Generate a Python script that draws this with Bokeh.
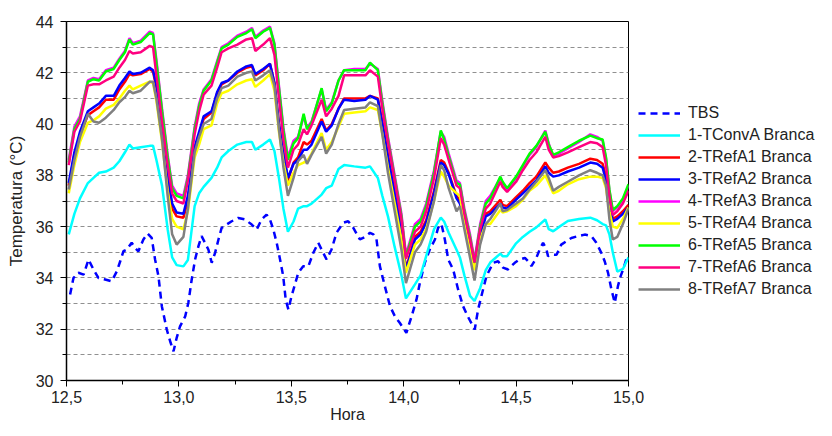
from bokeh.plotting import figure
from bokeh.models import Legend, LegendItem, FixedTicker, CustomJSTickFormatter, Range1d
from bokeh.embed import file_html
from bokeh.resources import INLINE

# ---------------- data ----------------
hora = [12.51, 12.535, 12.56, 12.595, 12.62, 12.645, 12.675, 12.71, 12.735, 12.76,
        12.78, 12.795, 12.83, 12.87, 12.885, 12.90,
        12.925, 12.95, 12.97, 12.99, 13.02, 13.04,
        13.07, 13.09, 13.11, 13.145, 13.17, 13.19, 13.22, 13.26, 13.30, 13.325, 13.34, 13.375, 13.405,
        13.425, 13.445, 13.465, 13.485, 13.51,
        13.53, 13.555, 13.57, 13.59, 13.635, 13.655, 13.68, 13.71, 13.735, 13.78, 13.83, 13.85, 13.885,
        13.905, 13.93, 13.96, 13.99, 14.01,
        14.05, 14.075, 14.10, 14.135, 14.165, 14.18, 14.20, 14.235, 14.25, 14.27, 14.295,
        14.315, 14.34, 14.365, 14.385, 14.43, 14.44, 14.46, 14.50, 14.53, 14.56, 14.59, 14.63, 14.645,
        14.665, 14.69, 14.73, 14.78, 14.83, 14.86, 14.885, 14.90, 14.915, 14.93, 14.95, 14.975, 15.0]

conv_a = [35.7, 36.5, 37.1, 37.7, 37.9, 38.1, 38.15, 38.3, 38.55, 38.9, 39.2, 39.05, 39.1, 39.15, 39.15, 38.6,
          37.6, 35.9, 34.8, 34.5, 34.45, 34.7,
          36.8, 37.3, 37.55, 37.9, 38.3, 38.7, 38.95, 39.2, 39.3, 39.3, 39.0, 39.2, 39.4,
          38.95, 37.9, 36.7, 35.8, 36.2,
          36.7, 36.8, 36.8, 36.9, 37.25, 37.5, 37.6, 38.25, 38.4, 38.35, 38.3, 38.35, 37.9,
          37.2, 36.4, 35.2, 34.1, 33.2,
          33.75, 34.1, 34.85, 35.9, 36.35, 36.2, 35.76, 35.1, 34.8, 34.1, 33.3,
          33.1, 33.6, 34.3, 34.6, 34.95, 34.85, 34.85, 35.35, 35.6, 35.8, 35.97, 36.28, 35.9,
          35.82, 35.98, 36.22, 36.3, 36.35, 36.25, 36.1, 36.05, 35.7, 35.0, 34.25, 34.35, 34.8]

ref_a1 = [37.6, 38.8, 39.55, 40.35, 40.5, 40.65, 40.95, 40.95, 41.35, 41.65, 41.95, 41.9, 41.95, 42.15, 42.05, 41.4,
          39.8, 37.9, 36.7, 36.4, 36.35, 37.0,
          39.0, 39.6, 40.2, 40.45, 41.2, 41.55, 41.7, 42.0, 42.2, 42.25, 41.9, 42.1, 42.35,
          41.6, 40.0, 38.8, 37.8, 38.5,
          38.7, 39.3, 39.2, 39.35, 40.2, 39.75, 40.0, 40.6, 41.0, 41.0, 41.0, 41.1, 41.0,
          40.1, 38.8, 37.4, 35.9, 34.35,
          35.6, 35.8, 36.25, 37.4, 38.6, 38.5, 38.1, 37.2, 37.0, 36.25, 35.35,
          34.55, 35.7, 36.5, 36.6, 37.05, 36.85, 36.8, 37.15, 37.4, 37.7, 37.95, 38.5, 38.3,
          38.1, 38.15, 38.3, 38.45, 38.65, 38.6, 38.45, 37.95, 37.0, 36.3, 36.4, 36.6, 36.85]

ref_a2 = [37.7, 38.9, 39.7, 40.5, 40.65, 40.8, 41.1, 41.1, 41.5, 41.8, 42.05, 41.95, 42.0, 42.2, 42.1, 41.5,
          39.9, 38.0, 36.9, 36.55, 36.5, 37.2,
          39.1, 39.7, 40.3, 40.5, 41.25, 41.6, 41.7, 42.05, 42.25, 42.3, 41.95, 42.15, 42.35,
          41.6, 40.0, 38.9, 37.9, 38.45,
          38.6, 39.0, 39.0, 39.2, 40.1, 39.7, 39.95, 40.6, 40.95, 40.9, 40.95, 41.1, 40.95,
          40.0, 38.7, 37.3, 35.8, 34.3,
          35.5, 35.7, 36.15, 37.3, 38.5, 38.4, 38.05, 37.1, 36.9, 36.2, 35.3,
          34.6, 35.6, 36.4, 36.5, 36.9, 36.75, 36.7, 37.05, 37.3, 37.55, 37.8, 38.35, 38.1,
          37.95, 38.0, 38.15, 38.3, 38.5, 38.45, 38.3, 37.8, 36.9, 36.2, 36.3, 36.5, 36.75]

ref_a3 = [38.6, 39.9, 40.3, 41.7, 41.8, 41.75, 42.1, 42.2, 42.55, 42.85, 43.35, 43.15, 43.25, 43.6, 43.55, 42.5,
          40.6, 38.8, 37.6, 37.3, 37.2, 38.0,
          39.9, 40.8, 41.35, 41.75, 42.45, 43.0, 43.15, 43.45, 43.6, 43.75, 43.4, 43.65, 43.8,
          43.15, 41.5, 39.85, 38.7, 39.35,
          39.5, 40.3, 39.85, 40.1, 41.35, 40.55, 40.85, 41.7, 42.1, 42.15, 42.15, 42.35, 42.15,
          40.9, 39.5, 38.0, 36.5, 34.9,
          36.1, 36.3, 36.9, 38.2, 39.7, 39.5, 38.85, 37.8, 37.7, 36.7, 35.7,
          34.7, 36.1, 37.0, 37.2, 37.9, 37.7, 37.45, 37.9, 38.35, 38.8, 39.1, 39.75, 39.25,
          38.75, 38.85, 39.05, 39.3, 39.6, 39.5, 39.35, 38.65, 37.4, 36.6, 36.75, 37.05, 37.6]

ref_a4 = [37.3, 38.4, 39.3, 40.05, 40.15, 40.3, 40.6, 40.75, 41.0, 41.3, 41.5, 41.35, 41.5, 41.65, 41.6, 40.9,
          39.3, 37.4, 36.3, 36.0, 35.9, 36.6,
          38.7, 39.2, 39.8, 39.95, 40.8, 41.2, 41.3, 41.55, 41.7, 41.75, 41.45, 41.7, 41.95,
          41.3, 39.7, 38.5, 37.6, 38.1,
          38.4, 38.5, 38.55, 38.85, 39.65, 39.0, 39.3, 39.9, 40.4, 40.45, 40.5, 40.65, 40.55,
          39.6, 38.3, 36.9, 35.5, 34.2,
          35.3, 35.5, 35.9, 37.0, 38.15, 37.95, 37.6, 37.3, 37.2, 36.1, 35.1,
          34.3, 35.5, 36.1, 36.1, 36.65, 36.55, 36.6, 36.8, 37.05, 37.4, 37.6, 38.0, 37.7,
          37.3, 37.4, 37.65, 37.85, 37.95, 37.95, 37.9, 37.5, 36.6, 36.0, 35.95, 36.3, 36.75]

ref_a5 = [38.5, 39.8, 40.2, 41.65, 41.75, 41.7, 42.05, 42.15, 42.5, 42.8, 43.3, 43.1, 43.2, 43.55, 43.5, 42.4,
          40.5, 38.7, 37.5, 37.2, 37.1, 37.9,
          39.8, 40.7, 41.3, 41.7, 42.4, 42.95, 43.1, 43.4, 43.55, 43.7, 43.35, 43.6, 43.75,
          43.1, 41.4, 39.75, 38.6, 39.25,
          39.45, 40.4, 39.8, 40.05, 41.4, 40.5, 40.8, 41.7, 42.1, 42.1, 42.1, 42.4, 42.1,
          40.8, 39.4, 37.9, 36.4, 34.8,
          36.0, 36.2, 36.8, 38.1, 39.75, 39.4, 38.75, 37.7, 37.65, 36.6, 35.6,
          34.6, 36.0, 36.9, 37.1, 37.95, 37.75, 37.5, 37.95, 38.4, 38.85, 39.15, 39.7, 39.2,
          38.8, 38.9, 39.1, 39.35, 39.55, 39.45, 39.4, 38.7, 37.45, 36.65, 36.8, 37.1, 37.65]

ref_a6 = [38.4, 39.7, 40.1, 41.5, 41.55, 41.55, 41.7, 41.85, 42.2, 42.5, 42.85, 42.75, 42.8, 43.05, 43.0, 41.9,
          40.1, 38.4, 37.3, 37.0, 36.9, 37.8,
          39.6, 40.5, 41.15, 41.5, 42.2, 42.8, 42.95, 43.1, 43.3, 43.35, 42.85, 43.1, 43.35,
          42.7, 41.0, 39.4, 38.3, 39.0,
          39.2, 39.8, 39.6, 39.95, 40.95, 40.3, 40.6, 41.1, 41.9, 41.9, 41.9, 42.1, 41.85,
          40.6, 39.3, 37.8, 36.3, 34.75,
          35.8, 36.0, 36.6, 37.9, 39.45, 39.2, 38.6, 37.6, 37.5, 36.5, 35.5,
          34.6, 35.9, 36.7, 36.9, 37.75, 37.55, 37.35, 37.75, 38.2, 38.6, 38.9, 39.5, 39.0,
          38.7, 38.75, 38.9, 39.1, 39.3, 39.25, 39.1, 38.4, 37.2, 36.45, 36.6, 36.9, 37.4]

ref_a7 = [37.45, 38.6, 39.5, 40.4, 40.1, 40.05, 40.25, 40.55, 40.85, 41.05, 41.3, 41.2, 41.3, 41.65, 41.65, 41.0,
          39.4, 37.2, 35.7, 35.3, 35.6, 36.7,
          38.9, 39.5, 40.0, 40.2, 41.0, 41.4, 41.5, 41.85, 42.0, 42.05, 41.7, 41.9, 42.1,
          41.5, 39.8, 38.3, 37.2, 37.9,
          38.55, 38.8, 38.45, 38.8, 39.5, 38.85, 39.2, 40.0, 40.55, 40.6, 40.65, 40.85, 40.7,
          39.6, 38.1, 36.6, 35.1, 33.8,
          35.0, 35.3, 35.8, 37.0, 38.4, 38.2, 37.5, 36.6, 36.8, 35.9, 34.8,
          33.9, 35.3, 36.1, 36.3, 36.9, 36.6, 36.65, 36.9, 37.1, 37.45, 37.75, 38.2, 37.9,
          37.4, 37.55, 37.75, 38.0, 38.2, 38.1, 38.0, 37.6, 36.3, 35.5, 35.6, 36.1, 36.7]

tbs_hora = [12.516, 12.531, 12.553, 12.576, 12.598, 12.62, 12.642, 12.672, 12.701, 12.724,
            12.739, 12.753, 12.768, 12.79, 12.805, 12.82, 12.842, 12.861, 12.879, 12.894,
            12.909, 12.924, 12.946, 12.961, 12.976, 12.99, 13.005, 13.028, 13.042, 13.057,
            13.072, 13.087, 13.101, 13.116, 13.131, 13.146, 13.161, 13.176, 13.19, 13.212,
            13.235, 13.264, 13.294, 13.324, 13.346, 13.368, 13.39, 13.405, 13.42, 13.435,
            13.45, 13.464, 13.475, 13.487, 13.501, 13.516, 13.531, 13.553, 13.576, 13.598,
            13.62, 13.642, 13.657, 13.679, 13.701, 13.731, 13.753, 13.776, 13.805, 13.828,
            13.85, 13.865, 13.879, 13.894, 13.916, 13.939, 13.961, 13.983, 14.012, 14.035,
            14.057, 14.072, 14.094, 14.116, 14.139, 14.153, 14.168, 14.183, 14.198, 14.22,
            14.242, 14.264, 14.285, 14.301, 14.316, 14.331, 14.353, 14.368, 14.383, 14.398,
            14.42, 14.442, 14.464, 14.494, 14.516, 14.539, 14.553, 14.568, 14.59, 14.605,
            14.62, 14.635, 14.642, 14.664, 14.68, 14.701, 14.724, 14.746, 14.776, 14.805,
            14.835, 14.857, 14.879, 14.894, 14.909, 14.924, 14.939, 14.953, 14.965, 14.976, 14.99]

tbs = [33.35, 34.0, 34.2, 34.13, 34.72, 34.33, 34.0, 33.94, 33.87, 34.26,
       34.65, 35.04, 35.1, 35.37, 35.17, 35.04, 35.5, 35.73, 35.56, 34.72,
       34.07, 32.9, 31.99, 31.53, 31.14, 31.66, 32.11, 32.5, 33.03, 33.94,
       34.72, 35.24, 35.63, 35.37, 35.11, 34.59, 34.98, 35.5, 35.95, 36.08,
       36.21, 36.34, 36.28, 36.08, 35.89, 36.28, 36.47, 36.28, 35.89, 35.37,
       34.72, 34.07, 33.16, 32.77, 33.29, 33.74, 34.2, 34.46, 34.46, 34.98,
       35.37, 34.98, 34.72, 35.11, 35.76, 36.15, 36.21, 35.95, 35.5, 35.6,
       35.76, 35.7, 35.5, 34.46, 33.68, 32.9, 32.5, 32.24, 31.86, 32.5,
       33.16, 33.81, 34.59, 35.11, 35.5, 35.95, 36.1, 35.5, 34.72, 34.33,
       33.55, 32.9, 32.5, 32.24, 31.99, 32.77, 33.55, 34.07, 34.33, 34.59,
       34.65, 34.4, 34.33, 34.59, 34.72, 34.78, 34.65, 34.46, 34.78, 35.11,
       35.37, 35.11, 34.85, 34.91, 34.9, 35.3, 35.43, 35.56, 35.63, 35.69,
       35.63, 35.37, 34.98, 34.65, 34.2, 33.55, 33.03, 33.68, 34.07, 34.33, 34.72]

x_ticks = [12.5, 13.0, 13.5, 14.0, 14.5, 15.0]
x_minor = [12.75, 13.25, 13.75, 14.25, 14.75]
y_ticks = [30, 32, 34, 36, 38, 40, 42, 44]
y_minor = [31, 33, 35, 37, 39, 41, 43]

tbs_name = "TBS"
series = [
    ("1-TConvA Branca", conv_a, "#00FFFF"),
    ("2-TRefA1 Branca", ref_a1, "#FF0000"),
    ("3-TRefA2 Branca", ref_a2, "#0000FF"),
    ("4-TRefA3 Branca", ref_a3, "#FF00FF"),
    ("5-TRefA4 Branca", ref_a4, "#FFFF00"),
    ("6-TRefA5 Branca", ref_a5, "#00FF00"),
    ("7-TRefA6 Branca", ref_a6, "#FF0080"),
    ("8-TRefA7 Branca", ref_a7, "#808080"),
]

FONT = "Liberation Sans"
LW = 2.5

p = figure(frame_width=562, frame_height=359, output_backend="svg", toolbar_location=None,
           x_range=Range1d(12.5, 15.0), y_range=Range1d(30, 44),
           min_border_left=66, min_border_top=21, min_border_bottom=52, min_border_right=0,
           background_fill_color="white", border_fill_color="white")
p.outline_line_color = "black"
p.outline_line_width = 1

items = []
r = p.line(tbs_hora, tbs, line_color="#0000FF", line_width=LW, line_dash="7 5")
items.append(LegendItem(label=tbs_name, renderers=[r]))
for name, vals, col in series:
    r = p.line(hora, vals, line_color=col, line_width=LW)
    items.append(LegendItem(label=name, renderers=[r]))

p.xaxis.ticker = FixedTicker(ticks=x_ticks, minor_ticks=x_minor)
p.yaxis.ticker = FixedTicker(ticks=y_ticks, minor_ticks=y_minor)
p.xaxis.formatter = CustomJSTickFormatter(code="return tick.toFixed(1).replace('.', ',');")
p.yaxis.formatter = CustomJSTickFormatter(code="return tick.toFixed(0);")
for ax in (p.xaxis, p.yaxis):
    ax.axis_line_color = "black"
    ax.axis_line_width = 1.5
    ax.major_tick_line_color = "black"
    ax.minor_tick_line_color = "black"
    ax.major_tick_in = 0
    ax.major_tick_out = 6
    ax.minor_tick_in = 0
    ax.minor_tick_out = 4
    ax.major_label_text_font = FONT
    ax.major_label_text_font_size = "16px"
    ax.major_label_text_color = "#222222"
    ax.axis_label_text_font = FONT
    ax.axis_label_text_font_style = "normal"
    ax.axis_label_text_color = "#222222"
p.yaxis.axis_label_text_font_size = "17px"
p.xaxis.axis_label_text_font_size = "16px"
p.xaxis.axis_label = "Hora"
p.yaxis.axis_label = "Temperatura (°C)"
p.xaxis.major_label_standoff = 4
p.xaxis.axis_label_standoff = 0
p.yaxis.major_label_standoff = 7
p.yaxis.axis_label_standoff = 7

p.xgrid.visible = False
p.ygrid.grid_line_color = "#909090"
p.ygrid.grid_line_dash = "4 3"
p.ygrid.grid_line_width = 1
p.ygrid.minor_grid_line_color = "#909090"
p.ygrid.minor_grid_line_dash = "4 3"
p.ygrid.minor_grid_line_width = 1

legend = Legend(items=items, location="center_left",
                border_line_alpha=0, background_fill_alpha=0,
                label_text_font=FONT, label_text_font_size="16px", label_text_color="#222222",
                glyph_width=42, glyph_height=21, label_height=21, spacing=1,
                label_standoff=8, padding=10, margin=0)
p.add_layout(legend, "right")

open("out.html", "w").write(file_html(p, INLINE))
